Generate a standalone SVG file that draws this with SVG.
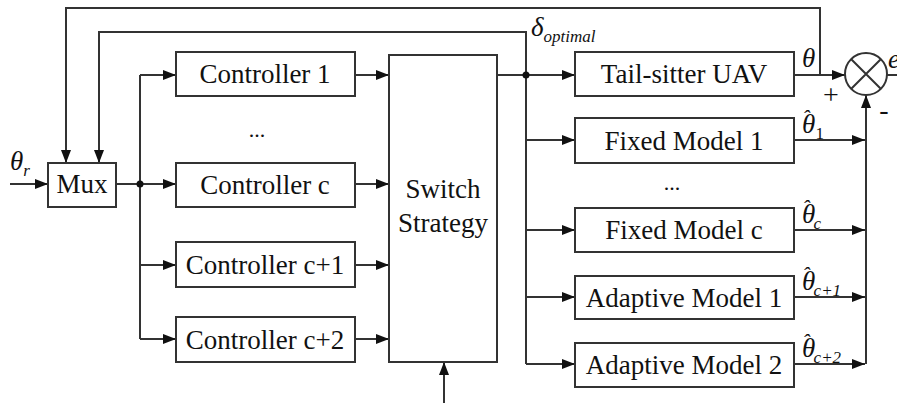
<svg xmlns="http://www.w3.org/2000/svg" width="897" height="403" viewBox="0 0 897 403">
<style>
.box{fill:#fff;stroke:#333;stroke-width:2}
.ln{fill:none;stroke:#333;stroke-width:2}
.arr{marker-end:url(#ah)}
.t{font-size:27px;fill:#111;text-anchor:middle}
.m{font-style:italic;fill:#111}
</style>
<defs>
<marker id="ah" markerUnits="userSpaceOnUse" markerWidth="14" markerHeight="10" refX="13" refY="5" orient="auto">
<path d="M0,0 L13,5 L0,10 Z" fill="#111"/>
</marker>
</defs>
<rect width="897" height="403" fill="#fff"/>
<g id="connectors">
<path class="ln arr" d="M10,184 H48"/>
<path class="ln arr" d="M116,184 H176"/>
<path class="ln" d="M140,75 V339"/>
<path class="ln arr" d="M140,75 H176"/>
<path class="ln arr" d="M140,265 H176"/>
<path class="ln arr" d="M140,339 H176"/>
<path class="ln arr" d="M355,75 H389"/>
<path class="ln arr" d="M355,184 H389"/>
<path class="ln arr" d="M355,265 H389"/>
<path class="ln arr" d="M355,339 H389"/>
<path class="ln arr" d="M444,403 V362"/>
<path class="ln arr" d="M497,75 H575"/>
<path class="ln arr" d="M526,75 V32 H99 V163"/>
<path class="ln" d="M526,75 V364"/>
<path class="ln arr" d="M526,140 H575"/>
<path class="ln arr" d="M526,230 H575"/>
<path class="ln arr" d="M526,297 H575"/>
<path class="ln arr" d="M526,364 H575"/>
<path class="ln arr" d="M794,75 H845"/>
<path class="ln arr" d="M820,75 V8 H66 V163"/>
<path class="ln arr" d="M794,140 H865"/>
<path class="ln arr" d="M794,230 H865"/>
<path class="ln arr" d="M794,297 H865"/>
<path class="ln arr" d="M794,364 H865"/>
<path class="ln arr" d="M866,364 V95"/>
<path class="ln" d="M887,75 H897"/>
<circle cx="140" cy="184" r="3.5" fill="#111"/>
<circle cx="526" cy="75" r="3.5" fill="#111"/>
</g>
<g font-family="'Liberation Serif','DejaVu Serif','Times New Roman',serif">
<g id="mux"><rect class="box" x="48" y="163" width="68" height="44"/><text class="t" x="82" y="193">Mux</text></g>
<g id="controller1"><rect class="box" x="176" y="52" width="179" height="44"/><text class="t" x="265" y="83">Controller 1</text></g>
<g id="controllerc"><rect class="box" x="176" y="163" width="179" height="44"/><text class="t" x="265" y="194">Controller c</text></g>
<g id="controllerc1"><rect class="box" x="176" y="242" width="179" height="45"/><text class="t" x="265" y="274">Controller c+1</text></g>
<g id="controllerc2"><rect class="box" x="176" y="317" width="179" height="45"/><text class="t" x="265" y="349">Controller c+2</text></g>
<g id="switch"><rect class="box" x="389" y="55" width="108" height="307"/><text class="t" x="443" y="198">Switch</text><text class="t" x="443" y="232">Strategy</text></g>
<g id="uav"><rect class="box" x="575" y="52" width="219" height="44"/><text class="t" x="684" y="83">Tail-sitter UAV</text></g>
<g id="fixed1"><rect class="box" x="575" y="118" width="219" height="45"/><text class="t" x="684" y="150">Fixed Model 1</text></g>
<g id="fixedc"><rect class="box" x="575" y="208" width="219" height="44"/><text class="t" x="684" y="239">Fixed Model c</text></g>
<g id="adaptive1"><rect class="box" x="575" y="276" width="219" height="43"/><text class="t" x="684" y="307">Adaptive Model 1</text></g>
<g id="adaptive2"><rect class="box" x="575" y="343" width="219" height="44"/><text class="t" x="684" y="374">Adaptive Model 2</text></g>
<g id="sum">
<circle cx="866" cy="74" r="21" fill="#fff" stroke="#333" stroke-width="2"/>
<path class="ln" d="M851,59 L881,89 M881,59 L851,89"/>
</g>
<g id="labels">
<text class="t" x="257" y="137" style="font-size:22px">...</text>
<text class="t" x="672" y="190" style="font-size:22px">...</text>
<text class="m" x="10" y="170" font-size="27">θ<tspan font-size="17" dy="6">r</tspan></text>
<text class="m" x="531" y="36" font-size="27">δ<tspan font-size="17" dy="6">optimal</tspan></text>
<text class="m" x="802" y="67" font-size="27">θ</text>
<text class="t" x="831" y="104" style="font-size:28px">+</text>
<text class="t" x="884" y="119" style="font-size:28px">-</text>
<text class="m" x="888" y="68" font-size="27">e</text>
<text class="m" x="802" y="133" font-size="27">θ<tspan font-size="22" dx="-13" dy="-8">ˆ</tspan><tspan font-size="17" dx="6" dy="14" font-style="normal">1</tspan></text>
<text class="m" x="802" y="223" font-size="27">θ<tspan font-size="22" dx="-13" dy="-8">ˆ</tspan><tspan font-size="17" dx="4" dy="14">c</tspan></text>
<text class="m" x="802" y="290" font-size="27">θ<tspan font-size="22" dx="-13" dy="-8">ˆ</tspan><tspan font-size="17" dx="4" dy="14">c+1</tspan></text>
<text class="m" x="802" y="357" font-size="27">θ<tspan font-size="22" dx="-13" dy="-8">ˆ</tspan><tspan font-size="17" dx="4" dy="14">c+2</tspan></text>
</g>
</g>
</svg>
